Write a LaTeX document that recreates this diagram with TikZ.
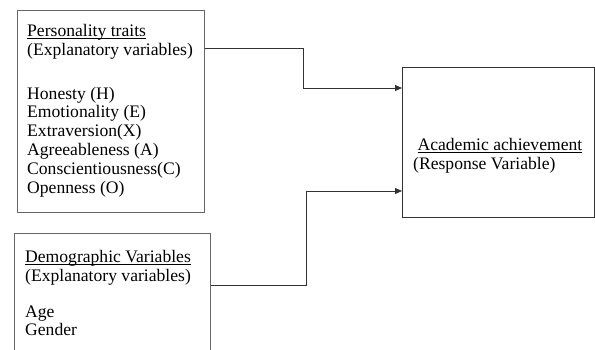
\documentclass[tikz,border=0pt]{standalone}
\usepackage{fontspec}
\setmainfont{Liberation Serif}
\usepackage{tikz}
\usetikzlibrary{arrows.meta, positioning}

\newcommand{\ulabel}[1]{\setbox0\hbox{#1}\rlap{\rule[-2.4pt]{\wd0}{0.6pt}}#1}

\tikzset{
	varbox/.style={draw=black!60, line width=0.8pt, anchor=north west, inner sep=0pt},
	vartext/.style={anchor=north west, align=left, inner sep=0pt,
		font=\fontsize{17.6}{18.8}\selectfont},
	link/.style={draw=black!80, line width=0.8pt, -{Triangle[length=7pt,width=6pt]}}
}

\begin{document}
\begin{tikzpicture}[x=1pt, y=-1pt]
			\useasboundingbox (0,0) rectangle (595,349);
			\clip (0,0) rectangle (595,349);
			
			% boxes
			\node[varbox, minimum width=187pt, minimum height=202pt] (traits) at (17,10) {};
			\node[varbox, minimum width=196pt, minimum height=140pt] (demo) at (14,233) {};
			\node[varbox, draw=black!80, minimum width=192pt, minimum height=150pt] (achieve) at (402,67) {};
			
			% texts
			\node[vartext] (traitstext) at (27,24) {\ulabel{Personality traits}\\
				(Explanatory variables)\\[25pt]
				Honesty (H)\\ Emotionality (E)\\ Extraversion(X)\\
				Agreeableness (A)\\ Conscientiousness(C)\\ Openness (O)};
			\node[vartext] (demotext) at (25,250) {\ulabel{Demographic Variables}\\
				(Explanatory variables)\\[17pt]
				Age\\ Gender};
			\node[vartext] (achievetext) at (413,138) {\ \ulabel{Academic achievement}\\
				(Response Variable)};
			
			% links
			\draw[link] ([yshift=-38pt]traits.north east) -| ++(99pt,-40pt) -- ([yshift=-21pt]achieve.north west);
			\draw[link] ([yshift=-52pt]demo.north east) -| ++(96pt,94pt) -- ([yshift=-124pt]achieve.north west);
		\end{tikzpicture}
\end{document}
